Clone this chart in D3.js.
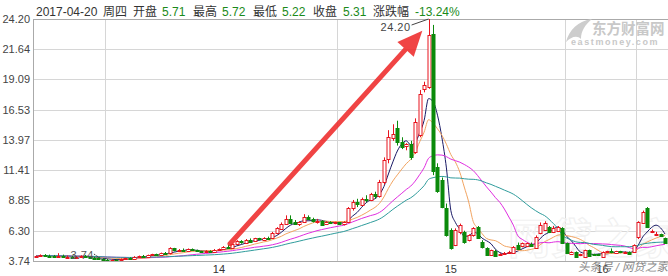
<!DOCTYPE html>
<html>
<head>
<meta charset="utf-8">
<script src="https://cdn.jsdelivr.net/npm/d3@7"></script>
<style>
body { margin: 0; background: #fff; }
svg text { font-family: "Liberation Sans", Arial, "Noto Sans CJK SC", sans-serif; }
</style>
</head>
<body>
<div id="chart"></div>
<script>
// weekly candles, [open, high, low, close]
var ohlc = [
  [4.10,4.20,4.02,4.15],[4.15,4.30,4.12,4.25],[4.25,4.32,4.15,4.20],[4.20,4.28,4.12,4.18],
  [4.18,4.25,4.10,4.15],[4.15,4.40,4.10,4.20],[4.20,4.28,4.05,4.10],[4.10,4.20,4.02,4.12],
  [4.12,4.18,4.00,4.05],[4.05,4.15,3.98,4.10],[4.10,4.22,4.05,4.15],[4.15,4.25,4.05,4.08],
  [4.08,4.15,3.98,4.02],[4.02,4.10,3.95,4.00],[4.00,4.05,3.90,3.95],[3.95,3.98,3.74,3.85],
  [3.85,3.92,3.78,3.80],[3.80,3.90,3.76,3.86],[3.86,3.92,3.80,3.84],[3.84,3.95,3.80,3.92],
  [3.92,4.02,3.88,3.98],[3.98,4.05,3.92,3.95],[3.95,4.15,3.93,4.10],[4.10,4.20,4.05,4.15],
  [4.15,4.25,4.08,4.12],[4.12,4.28,4.10,4.25],[4.25,4.35,4.20,4.30],[4.30,4.36,4.22,4.28],
  [4.28,4.45,4.25,4.42],[4.42,4.50,4.30,4.35],[4.35,4.90,4.30,4.80],[4.80,4.85,4.55,4.60],
  [4.60,4.75,4.50,4.70],[4.70,4.80,4.55,4.60],[4.60,4.80,4.55,4.75],[4.75,4.80,4.60,4.65],
  [4.65,4.70,4.50,4.55],[4.55,4.60,4.45,4.50],[4.50,4.65,4.45,4.60],[4.60,4.65,4.50,4.55],
  [4.55,4.75,4.50,4.70],[4.70,4.80,4.62,4.75],[4.75,5.00,4.70,4.95],[4.95,5.10,4.80,4.85],
  [4.85,5.20,4.80,5.15],[5.15,5.50,5.10,5.40],[5.40,5.50,5.20,5.30],[5.30,5.60,5.25,5.55],
  [5.55,5.65,5.35,5.40],[5.40,5.70,5.35,5.65],[5.65,5.70,5.50,5.55],[5.55,5.75,5.50,5.70],
  [5.70,5.80,5.60,5.65],[5.65,6.20,5.60,6.10],[6.10,6.60,6.00,6.50],[6.50,7.00,6.40,6.90],
  [6.90,7.60,6.80,7.30],[7.30,7.60,6.90,7.00],[7.00,7.20,6.80,6.85],[6.85,7.10,6.70,7.05],
  [7.05,7.70,7.00,7.50],[7.50,7.60,7.20,7.30],[7.30,7.40,7.00,7.10],[7.10,7.30,6.90,7.15],
  [7.15,7.20,6.80,6.85],[6.85,7.10,6.80,7.05],[7.05,7.10,6.90,6.95],[6.95,7.05,6.85,7.00],
  [7.00,7.05,6.80,6.85],[6.85,7.10,6.75,7.00],[7.00,8.30,6.95,8.20],[8.20,8.90,8.00,8.70],
  [8.70,9.00,8.30,8.50],[8.50,9.10,8.40,9.00],[9.00,9.30,8.70,8.90],[8.90,9.50,8.80,9.40],
  [9.40,9.60,9.00,9.20],[9.20,10.6,9.10,10.4],[10.4,12.5,10.2,12.3],[12.3,14.8,12.0,14.2],
  [14.2,15.3,13.9,14.5],[15.0,15.6,13.5,13.8],[13.8,14.2,13.2,13.4],[13.4,13.7,13.1,13.6],
  [13.6,13.9,12.3,12.5],[13.0,15.8,12.8,15.5],[14.4,18.2,14.2,17.9],[18.3,18.9,18.0,18.6],
  [18.45,24.20,18.3,22.85],[22.9,23.7,11.0,11.3],[11.7,12.0,9.5,9.7],[10.6,10.8,8.2,8.3],
  [8.2,8.6,5.8,5.9],[6.35,6.5,4.7,4.8],[5.1,6.5,5.0,6.35],[6.2,6.9,6.0,6.8],
  [6.2,6.3,5.2,5.35],[5.5,6.0,5.4,5.9],[5.9,6.6,5.8,6.5],[6.6,6.7,5.6,5.7],
  [5.35,5.5,4.8,4.9],[4.8,4.9,4.2,4.25],[4.25,4.7,4.2,4.65],[4.6,4.7,4.1,4.15],
  [4.25,4.4,4.2,4.3],[4.3,4.5,4.25,4.4],[4.4,4.6,4.35,4.5],[4.4,5.0,4.35,4.9],
  [5.1,5.3,4.75,4.8],[5.0,5.3,4.9,5.25],[5.0,5.3,4.95,5.25],[5.2,5.3,5.0,5.05],
  [4.9,5.9,4.85,5.8],[6.1,7.0,6.0,6.8],[6.35,7.1,6.3,6.95],[6.6,6.7,6.1,6.2],
  [6.2,6.7,6.1,6.55],[6.3,6.7,6.2,6.6],[6.5,6.6,5.2,5.25],[5.25,5.3,4.4,4.4],
  [4.3,4.55,4.25,4.5],[4.5,4.55,4.1,4.1],[4.2,4.35,4.15,4.3],[4.1,4.7,4.05,4.65],
  [4.65,4.7,4.1,4.15],[4.3,4.35,4.25,4.28],[4.3,4.35,4.2,4.25],[4.1,4.55,4.05,4.5],
  [4.5,4.6,4.45,4.55],[4.55,4.8,4.4,4.45],[4.4,4.6,4.35,4.55],[4.55,4.6,4.4,4.45],
  [4.45,4.55,4.35,4.5],[4.5,4.55,4.3,4.35],[4.5,5.15,4.45,5.1],[5.7,7.1,5.6,7.0],
  [6.95,8.0,6.9,7.9],[8.2,8.3,6.6,6.6],[6.2,6.4,6.1,6.3],[6.0,6.2,5.9,6.05],
  [6.0,6.05,5.8,5.85],[5.71,5.72,5.22,5.31]
];

var yTicks = [3.74, 6.30, 8.85, 11.41, 13.97, 16.53, 19.09, 21.64, 24.20];
var xLabels = [{i: 41, t: "14"}, {i: 93, t: "15"}, {i: 127, t: "16"}];
var vGridAfter = [15, 67, 118, 134];   // vertical grid line after these candles
var maPeriods = [5, 10, 20, 30];

var headerItems = [
  {t: "2017-04-20", v: false}, {t: "周四", v: false},
  {t: "开盘", v: false}, {t: "5.71", v: true},
  {t: "最高", v: false}, {t: "5.72", v: true},
  {t: "最低", v: false}, {t: "5.22", v: true},
  {t: "收盘", v: false}, {t: "5.31", v: true},
  {t: "涨跌幅", v: false}, {t: "-13.24%", v: true}
];
var headerX = [36, 103, 133, 162, 193, 222, 253, 282, 313, 343, 373, 415];

var maxPoint = {i: 88, p: 24.20};
var minPoint = {i: 15, p: 3.74};
var arrowFrom = {i: 43.5, p: 5.2};
var arrowTo = {i: 86.6, p: 23.2};

var W = 668, H = 276;
var mLeft = 33, mTop = 19, mBottom = 261;
var maColors = ["#1a1a66", "#f2a461", "#e02ee0", "#2f9c9c"];

var svg = d3.select("#chart").append("svg")
    .attr("width", W).attr("height", H);

var x = d3.scaleLinear().domain([0, ohlc.length - 1]).range([36, 665]);
var y = d3.scaleLinear().domain([3.74, 24.20]).range([mBottom, mTop]);
var step = x(1) - x(0);

svg.append("defs").append("clipPath").attr("id", "plot")
  .append("rect").attr("x", mLeft).attr("y", mTop).attr("width", W - mLeft).attr("height", mBottom - mTop);

// grid
svg.append("g").selectAll("line").data(yTicks).enter().append("line")
    .attr("x1", mLeft).attr("x2", W)
    .attr("y1", function(d) { return Math.round(y(d)) + 0.5; })
    .attr("y2", function(d) { return Math.round(y(d)) + 0.5; })
    .attr("stroke", "#d6d6d6");

svg.append("g").selectAll("line").data(vGridAfter).enter().append("line")
    .attr("x1", function(d) { return Math.round(x(d) + step / 2) + 0.5; })
    .attr("x2", function(d) { return Math.round(x(d) + step / 2) + 0.5; })
    .attr("y1", mTop).attr("y2", mBottom)
    .attr("stroke", "#d6d6d6");

svg.append("line").attr("x1", mLeft + 0.5).attr("x2", mLeft + 0.5)
    .attr("y1", mTop).attr("y2", mBottom).attr("stroke", "#aaa");
svg.append("line").attr("x1", mLeft).attr("x2", W)
    .attr("y1", mTop + 0.5).attr("y2", mTop + 0.5).attr("stroke", "#aaa");
svg.append("line").attr("x1", mLeft).attr("x2", W)
    .attr("y1", mBottom + 0.5).attr("y2", mBottom + 0.5).attr("stroke", "#aaa");

// y labels
svg.append("g").selectAll("text").data(yTicks).enter().append("text")
    .attr("x", 30).attr("y", function(d) { return y(d); })
    .attr("dy", "0.35em").attr("text-anchor", "end")
    .attr("font-size", 11).attr("fill", "#444")
    .text(function(d) { return d3.format(".2f")(d); });

// watermarks
var wm = svg.append("g");
wm.append("text").attr("x", 508).attr("y", 254).attr("font-size", 42)
    .attr("font-family", "Noto Sans CJK SC").attr("font-weight", "bold")
    .attr("fill", "none").attr("stroke", "#f1f1f1").attr("stroke-width", 1.2)
    .text("网贷之家");
wm.append("path")
    .attr("d", "M566,42 C569,30 578,21 592,19 C585,25 581,31 581,39 C577,35 571,37 566,42 Z")
    .attr("fill", "#cdcdcd");
wm.append("text").attr("x", 592).attr("y", 34).attr("font-size", 14.5)
    .attr("font-weight", "bold").attr("font-family", "Noto Sans CJK SC")
    .attr("fill", "#c8c8c8").text("东方财富网");
wm.append("text").attr("x", 571).attr("y", 45).attr("font-size", 9)
    .attr("font-weight", "bold").attr("letter-spacing", 1.6)
    .attr("fill", "#c8c8c8").text("eastmoney.com");

// x labels
svg.append("g").selectAll("text").data(xLabels).enter().append("text")
    .attr("x", function(d) { return x(d.i); }).attr("y", 273)
    .attr("text-anchor", "middle").attr("font-size", 11).attr("fill", "#333")
    .text(function(d) { return d.t; });

var plot = svg.append("g").attr("clip-path", "url(#plot)");

// moving averages
var closes = ohlc.map(function(d) { return d[3]; });
var line = d3.line()
    .x(function(d, i) { return x(i); })
    .y(function(d) { return y(d); })
    .curve(d3.curveMonotoneX);

maPeriods.forEach(function(n, k) {
    var ma = closes.map(function(c, i) {
        return d3.mean(closes.slice(Math.max(0, i - n + 1), i + 1));
    });
    plot.append("path")
        .attr("d", line(ma))
        .attr("fill", "none")
        .attr("stroke", maColors[k])
        .attr("stroke-width", 1);
});

// candles
var candles = plot.append("g").selectAll("g").data(ohlc).enter().append("g");
function col(d) { return d[3] >= d[0] ? "#e8141e" : "#0b8a0b"; }
candles.append("line")
    .attr("x1", function(d, i) { return Math.round(x(i)) + 0.5; })
    .attr("x2", function(d, i) { return Math.round(x(i)) + 0.5; })
    .attr("y1", function(d) { return y(d[1]); })
    .attr("y2", function(d) { return y(d[2]); })
    .attr("stroke", col);
candles.append("rect")
    .attr("x", function(d, i) { return Math.round(x(i)) - 1; })
    .attr("width", 3)
    .attr("y", function(d) { return Math.round(y(Math.max(d[0], d[3]))) + 0.5; })
    .attr("height", function(d) { return Math.max(1, Math.round(Math.abs(y(d[0]) - y(d[3])))); })
    .attr("fill", function(d) { return d[3] >= d[0] ? "#fff" : "#0b8a0b"; })
    .attr("stroke", col);

// max / min notes
var mx = x(maxPoint.i), my = y(maxPoint.p);
svg.append("line").attr("x1", mx).attr("y1", my).attr("x2", mx - 17).attr("y2", my + 6)
    .attr("stroke", "#444");
svg.append("text").attr("x", mx - 18).attr("y", my + 8).attr("dy", "0.35em")
    .attr("text-anchor", "end").attr("font-size", 11).attr("fill", "#444")
    .attr("letter-spacing", 0.5).text(d3.format(".2f")(maxPoint.p));

var nx = x(minPoint.i), ny = y(minPoint.p);
svg.append("line").attr("x1", nx).attr("y1", ny - 1).attr("x2", nx - 9).attr("y2", ny - 7)
    .attr("stroke", "#444").attr("stroke-dasharray", "2,1");
svg.append("text").attr("x", nx - 9).attr("y", ny - 6).attr("dy", "0.35em")
    .attr("text-anchor", "end").attr("font-size", 11).attr("fill", "#555")
    .attr("letter-spacing", 0.5).text(d3.format(".2f")(minPoint.p));

// red arrow
var ax0 = x(arrowFrom.i), ay0 = y(arrowFrom.p), ax1 = x(arrowTo.i), ay1 = y(arrowTo.p);
var ang = Math.atan2(ay1 - ay0, ax1 - ax0);
var headLen = 25, headW = 11;
var bx = ax1 - headLen * Math.cos(ang), by = ay1 - headLen * Math.sin(ang);
var px = -Math.sin(ang), py = Math.cos(ang);
var arrow = svg.append("g").attr("opacity", 0.88);
arrow.append("line").attr("x1", ax0).attr("y1", ay0).attr("x2", bx + 2 * Math.cos(ang)).attr("y2", by + 2 * Math.sin(ang))
    .attr("stroke", "#ee2b2b").attr("stroke-width", 5).attr("stroke-linecap", "round");
arrow.append("path")
    .attr("d", "M" + ax1 + "," + ay1 +
               "L" + (bx + px * headW) + "," + (by + py * headW) +
               "L" + (bx - px * headW) + "," + (by - py * headW) + "Z")
    .attr("fill", "#ee2b2b");

// header
svg.append("g").selectAll("text").data(headerItems).enter().append("text")
    .attr("x", function(d, i) { return headerX[i]; }).attr("y", 16)
    .attr("font-size", 12)
    .attr("fill", function(d) { return d.v ? "#1a8a1a" : "#333"; })
    .text(function(d) { return d.t; });

// credit
svg.append("text").attr("x", 578).attr("y", 271).attr("font-size", 11.5)
    .attr("font-family", "Noto Sans CJK SC").attr("font-style", "italic")
    .attr("fill", "#8a8a8a").text("头条号 / 网贷之家");
</script>
</body>
</html>
